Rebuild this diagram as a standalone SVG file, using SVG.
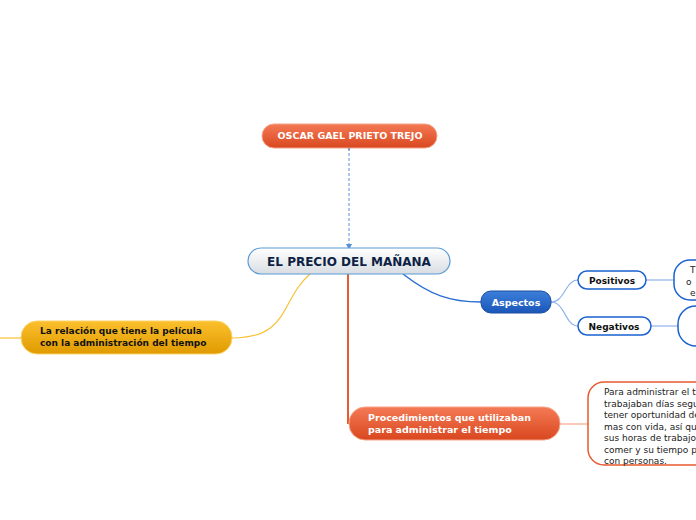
<svg xmlns="http://www.w3.org/2000/svg" width="696" height="520" viewBox="0 0 696 520">
<defs>
<linearGradient id="gO" x1="0" y1="0" x2="0" y2="1"><stop offset="0" stop-color="#f47a55"/><stop offset="1" stop-color="#d9471f"/></linearGradient>
<linearGradient id="gY" x1="0" y1="0" x2="0" y2="1"><stop offset="0" stop-color="#fbc02d"/><stop offset="1" stop-color="#e09a00"/></linearGradient>
<linearGradient id="gB" x1="0" y1="0" x2="0" y2="1"><stop offset="0" stop-color="#3d7fdb"/><stop offset="1" stop-color="#1a56b8"/></linearGradient>
<linearGradient id="gC" x1="0" y1="0" x2="0" y2="1"><stop offset="0" stop-color="#ffffff"/><stop offset="1" stop-color="#d8dde2"/></linearGradient>
<marker id="ar" markerWidth="6" markerHeight="6" refX="3" refY="3" orient="auto"><path d="M0,0 L6,3 L0,6 z" fill="#5b8fd6"/></marker>
</defs>
<style>
text{font-family:"DejaVu Sans",Verdana,sans-serif}
.w{fill:#fff;font-weight:bold;font-size:9.5px}
.k{fill:#111;font-weight:bold;font-size:9px}
.s{fill:#222;font-size:9px}
</style>
<g id="connectors" fill="none">
<path d="M349,148 L349,247" stroke="#5b8fd6" stroke-dasharray="3,2" marker-end="url(#ar)" marker-start="url(#ar)"/>
<path d="M310,274 C280,300 290,338 232,338" stroke="#f9c034" stroke-width="1.2"/>
<path d="M22,338 L0,338" stroke="#f9c034" stroke-width="1.2"/>
<path d="M348,274 L348,424" stroke="#e85a30" stroke-width="2"/>
<path d="M560,424 L588,424" stroke="#f5a58a" stroke-width="1.2"/>
<path d="M403,274 C430,295 450,302 481,302" stroke="#2a6fd1" stroke-width="1.5"/>
<path d="M551,302 C565,302 565,280 578,280" stroke="#8fb3e8" stroke-width="1.2"/>
<path d="M551,302 C565,302 565,326 578,326" stroke="#8fb3e8" stroke-width="1.2"/>
<path d="M646,280 L674,280" stroke="#8fb3e8" stroke-width="1.2"/>
<path d="M651,326 L678,326" stroke="#8fb3e8" stroke-width="1.2"/>
</g>
<g id="autor"><rect x="262" y="124" width="175" height="24" rx="12" fill="url(#gO)" stroke="#f2a38a"/><text x="350" y="139" text-anchor="middle" class="w">OSCAR GAEL PRIETO TREJO</text></g>
<g id="central"><rect x="248" y="248" width="202" height="26" rx="13" fill="url(#gC)" stroke="#5b9bd5" stroke-width="1.2"/><text x="349" y="266" text-anchor="middle" font-weight="bold" font-size="12" fill="#0f1f45">EL PRECIO DEL MAÑANA</text></g>
<g id="relacion"><rect x="21" y="321" width="211" height="33" rx="16" fill="url(#gY)" stroke="#fbd36a"/><text x="40" y="334" class="k">La relación que tiene la película</text><text x="40" y="346" class="k">con la administración del tiempo</text></g>
<g id="procedimientos"><rect x="349" y="407" width="211" height="33" rx="16" fill="url(#gO)" stroke="#f5a58a"/><text x="368" y="421" class="w" font-size="9">Procedimientos que utilizaban</text><text x="368" y="433" class="w" font-size="9">para administrar el tiempo</text></g>
<g id="aspectos"><rect x="481" y="291" width="70" height="22" rx="10" fill="url(#gB)" stroke="#1a4fa0"/><text x="516" y="306" text-anchor="middle" class="w" font-size="9">Aspectos</text></g>
<g id="positivos"><rect x="578" y="271" width="68" height="18" rx="9" fill="#fff" stroke="#1a62d0" stroke-width="1.5"/><text x="612" y="284" text-anchor="middle" class="k">Positivos</text></g>
<g id="negativos"><rect x="578" y="317" width="73" height="18" rx="9" fill="#fff" stroke="#1a62d0" stroke-width="1.5"/><text x="614" y="330" text-anchor="middle" class="k">Negativos</text></g>
<g id="pos-text"><rect x="674" y="260" width="60" height="40" rx="16" fill="#fff" stroke="#1a62d0" stroke-width="1.5"/><text x="690" y="273" class="s">T</text><text x="686" y="285" class="s">o</text><text x="690" y="296" class="s">e</text></g>
<g id="neg-text"><rect x="678" y="306" width="60" height="40" rx="18" fill="#fff" stroke="#1a62d0" stroke-width="1.5"/></g>
<g id="proc-text"><rect x="588" y="382" width="140" height="83" rx="16" fill="#fff" stroke="#e85a30" stroke-width="1.5"/>
<text class="s"><tspan x="604" y="395">Para administrar el t</tspan><tspan x="604" y="406.5">trabajaban días segu</tspan><tspan x="604" y="418">tener oportunidad de</tspan><tspan x="604" y="429.5">mas con vida, así qu</tspan><tspan x="604" y="441">sus horas de trabajo</tspan><tspan x="604" y="452.5">comer y su tiempo p</tspan><tspan x="604" y="464">con personas.</tspan></text></g>
</svg>
